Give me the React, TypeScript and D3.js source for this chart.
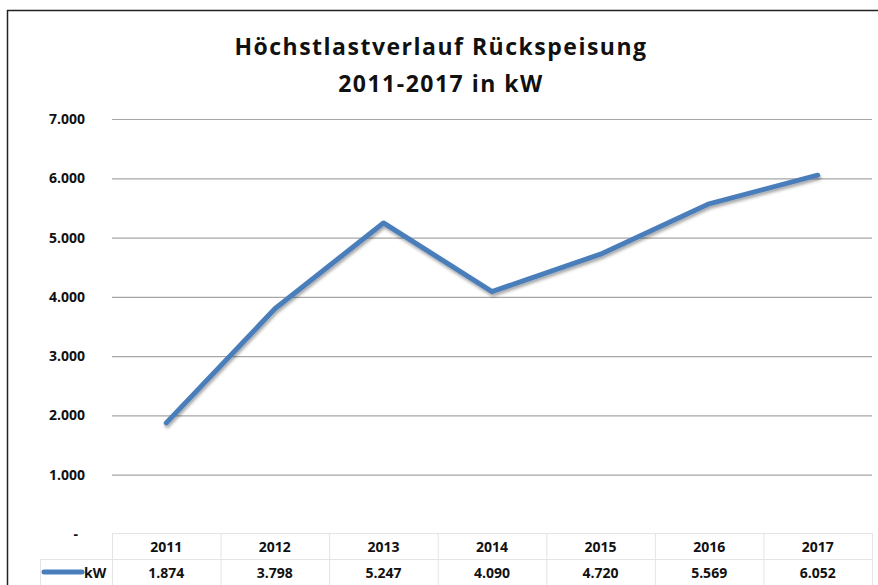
import React, { useEffect, useRef } from "react";
import * as d3 from "d3";

const years = ["2011", "2012", "2013", "2014", "2015", "2016", "2017"];
const values = [1874, 3798, 5247, 4090, 4720, 5569, 6052];
const yTicks = [0, 1000, 2000, 3000, 4000, 5000, 6000, 7000];
const seriesName = "kW";
const titleLines = ["Höchstlastverlauf Rückspeisung", "2011-2017 in kW"];

const width = 878;
const height = 585;
const font = "'Open Sans', 'DejaVu Sans', sans-serif";
const lineColor = "#4a7ebb";

function fmt(v: number) {
  if (v === 0) return "-";
  return d3.format(",")(v).replace(/,/g, ".");
}

function LineChart() {
  const ref = useRef<SVGSVGElement>(null);

  useEffect(() => {
    drawChart();
  }, []);

  function drawChart() {
    const svg = d3.select(ref.current);
    svg.selectAll("*").remove();

    const left = 112;
    const right = 872;
    const top = 119;
    const bottom = 534;

    const x = d3.scaleBand().domain(years).range([left, right]);
    const y = d3.scaleLinear().domain([0, 7000]).range([bottom, top]);

    const defs = svg.append("defs");
    const filter = defs
      .append("filter")
      .attr("id", "shadow")
      .attr("x", "-10%")
      .attr("y", "-10%")
      .attr("width", "120%")
      .attr("height", "130%");
    filter
      .append("feDropShadow")
      .attr("dx", 1)
      .attr("dy", 2.5)
      .attr("stdDeviation", 1.8)
      .attr("flood-color", "#000")
      .attr("flood-opacity", 0.35);

    svg
      .append("rect")
      .attr("width", width)
      .attr("height", height)
      .attr("fill", "#fff");

    // frame
    svg
      .append("line")
      .attr("x1", 7)
      .attr("x2", width)
      .attr("y1", 10.5)
      .attr("y2", 10.5)
      .attr("stroke", "#222")
      .attr("stroke-width", 1.5);
    svg
      .append("line")
      .attr("x1", 7.5)
      .attr("x2", 7.5)
      .attr("y1", 10)
      .attr("y2", height)
      .attr("stroke", "#222")
      .attr("stroke-width", 1.5);

    // title
    svg
      .append("g")
      .selectAll("text")
      .data(titleLines)
      .enter()
      .append("text")
      .attr("x", 441)
      .attr("y", (_, i) => 55 + i * 37)
      .attr("text-anchor", "middle")
      .attr("font-family", font)
      .attr("font-weight", "bold")
      .attr("font-size", "23px")
      .attr("letter-spacing", "1.5px")
      .attr("fill", "#111")
      .text((d) => d);

    // gridlines
    svg
      .append("g")
      .selectAll("line")
      .data(yTicks.filter((d) => d > 0))
      .enter()
      .append("line")
      .attr("x1", left)
      .attr("x2", right)
      .attr("y1", (d) => y(d) + 0.5)
      .attr("y2", (d) => y(d) + 0.5)
      .attr("stroke", "#a6a6a6")
      .attr("stroke-width", 1.2);

    // y labels
    svg
      .append("g")
      .selectAll("text")
      .data(yTicks)
      .enter()
      .append("text")
      .attr("x", (d) => (d === 0 ? 78 : 85))
      .attr("y", (d) => y(d) + 5)
      .attr("text-anchor", "end")
      .attr("font-family", font)
      .attr("font-weight", "bold")
      .attr("font-size", "14px")
      .attr("fill", "#111")
      .text((d) => fmt(d));

    // data table
    const rowTop = 533;
    const rowMid = 559;
    const rowBot = 586;
    const table = svg.append("g").attr("stroke", "#e4e4e4").attr("stroke-width", 1);
    table.append("line").attr("x1", left).attr("x2", right).attr("y1", rowTop + 0.5).attr("y2", rowTop + 0.5);
    table.append("line").attr("x1", 40).attr("x2", right).attr("y1", rowMid + 0.5).attr("y2", rowMid + 0.5);
    table.append("line").attr("x1", 40.5).attr("x2", 40.5).attr("y1", rowMid).attr("y2", rowBot);
    table
      .selectAll("line.col")
      .data([...years.map((d) => x(d) as number), right])
      .enter()
      .append("line")
      .attr("class", "col")
      .attr("x1", (d) => d + 0.5)
      .attr("x2", (d) => d + 0.5)
      .attr("y1", rowTop)
      .attr("y2", rowBot);

    svg
      .append("g")
      .selectAll("text")
      .data(years)
      .enter()
      .append("text")
      .attr("x", (d) => (x(d) as number) + x.bandwidth() / 2)
      .attr("y", 552)
      .attr("text-anchor", "middle")
      .attr("font-family", font)
      .attr("font-weight", "bold")
      .attr("font-size", "14px")
      .attr("fill", "#111")
      .text((d) => d);

    svg
      .append("g")
      .selectAll("text")
      .data(values)
      .enter()
      .append("text")
      .attr("x", (_, i) => (x(years[i]) as number) + x.bandwidth() / 2)
      .attr("y", 578)
      .attr("text-anchor", "middle")
      .attr("font-family", font)
      .attr("font-weight", "bold")
      .attr("font-size", "14px")
      .attr("fill", "#111")
      .text((d) => fmt(d));

    // legend key
    svg
      .append("line")
      .attr("x1", 44)
      .attr("x2", 82)
      .attr("y1", 572)
      .attr("y2", 572)
      .attr("stroke", lineColor)
      .attr("stroke-width", 5)
      .attr("stroke-linecap", "round");
    svg
      .append("text")
      .attr("x", 84)
      .attr("y", 578)
      .attr("font-family", font)
      .attr("font-weight", "bold")
      .attr("font-size", "14px")
      .attr("fill", "#111")
      .text(seriesName);

    // series line
    const line = d3
      .line<number>()
      .x((_, i) => (x(years[i]) as number) + x.bandwidth() / 2)
      .y((d) => y(d));

    svg
      .append("path")
      .datum(values)
      .attr("d", line)
      .attr("fill", "none")
      .attr("stroke", lineColor)
      .attr("stroke-width", 5)
      .attr("stroke-linejoin", "round")
      .attr("stroke-linecap", "round")
      .attr("filter", "url(#shadow)");
  }

  return (
    <svg
      ref={ref}
      width={width}
      height={height}
      style={{ display: "block", position: "fixed", left: 0, top: 0 }}
    />
  );
}

export default function App() {
  return <LineChart />;
}
